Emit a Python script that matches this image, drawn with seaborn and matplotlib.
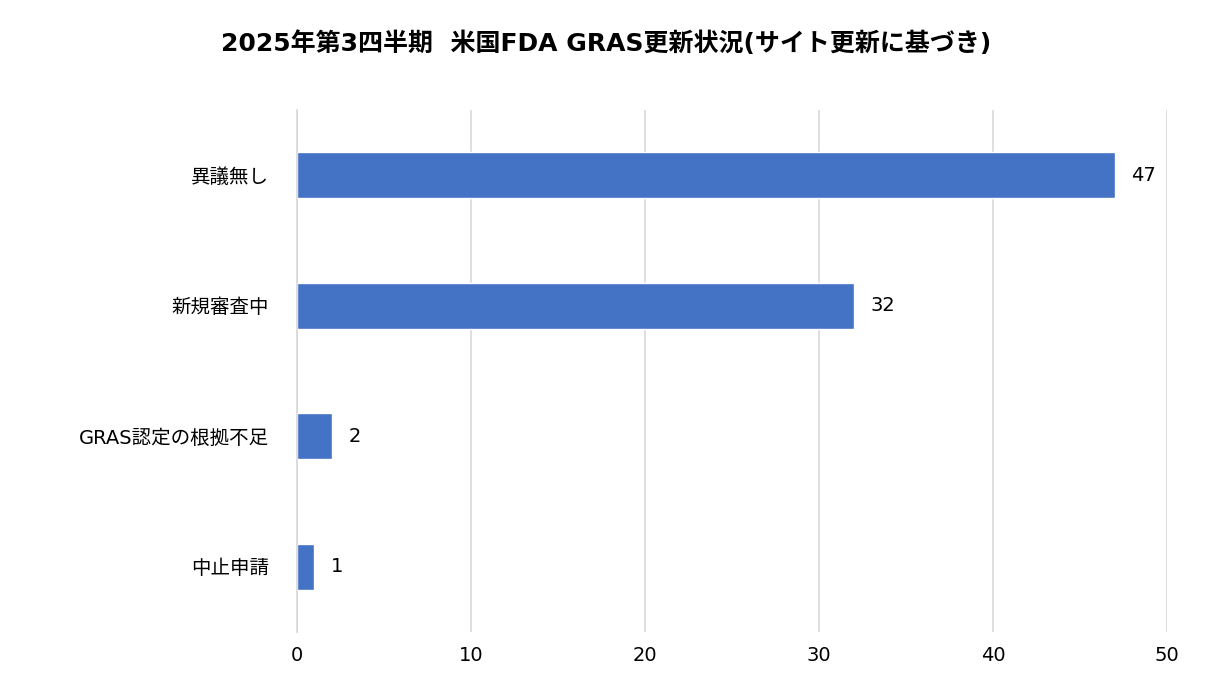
import matplotlib
matplotlib.use("Agg")
import matplotlib.pyplot as plt
import seaborn as sns
import pandas as pd

categories = ["異議無し", "新規審査中", "GRAS認定の根拠不足", "中止申請"]
counts = [47, 32, 2, 1]
title = "2025年第3四半期  米国FDA GRAS更新状況(サイト更新に基づき)"

sns.set_theme(style="white")
plt.rcParams["font.family"] = ["DejaVu Sans", "Noto Sans CJK JP"]

df = pd.DataFrame({"category": categories, "count": counts})

fig = plt.figure(figsize=(12.13, 6.99), dpi=100)
ax = fig.add_axes([0.2449, 0.0959, 0.7173, 0.7467])
sns.barplot(data=df, x="count", y="category", color="#4472C4", saturation=1,
            width=0.35, ax=ax)

ax.set_xlim(0, 50)
ax.set_ylim(3.5, -0.5)
ax.set_xticks(range(0, 51, 10))
ax.xaxis.grid(True, color="#d9d9d9", linewidth=1.2)
ax.set_axisbelow(True)
for s in ["top", "right", "bottom"]:
    ax.spines[s].set_visible(False)
ax.spines["left"].set_color("#d9d9d9")
ax.tick_params(axis="both", labelsize=14, length=0, colors="black")
ax.tick_params(axis="x", pad=10)
ax.tick_params(axis="y", pad=20)
ax.set_xlabel("")
ax.set_ylabel("")

for i, v in enumerate(counts):
    ax.text(v + 0.95, i, str(v), va="center", ha="left", fontsize=14,
            color="black")

fig.suptitle(title, x=0.5, y=0.955, fontsize=18, fontweight="bold",
             color="black")
fig.savefig("out.png", dpi=100)
